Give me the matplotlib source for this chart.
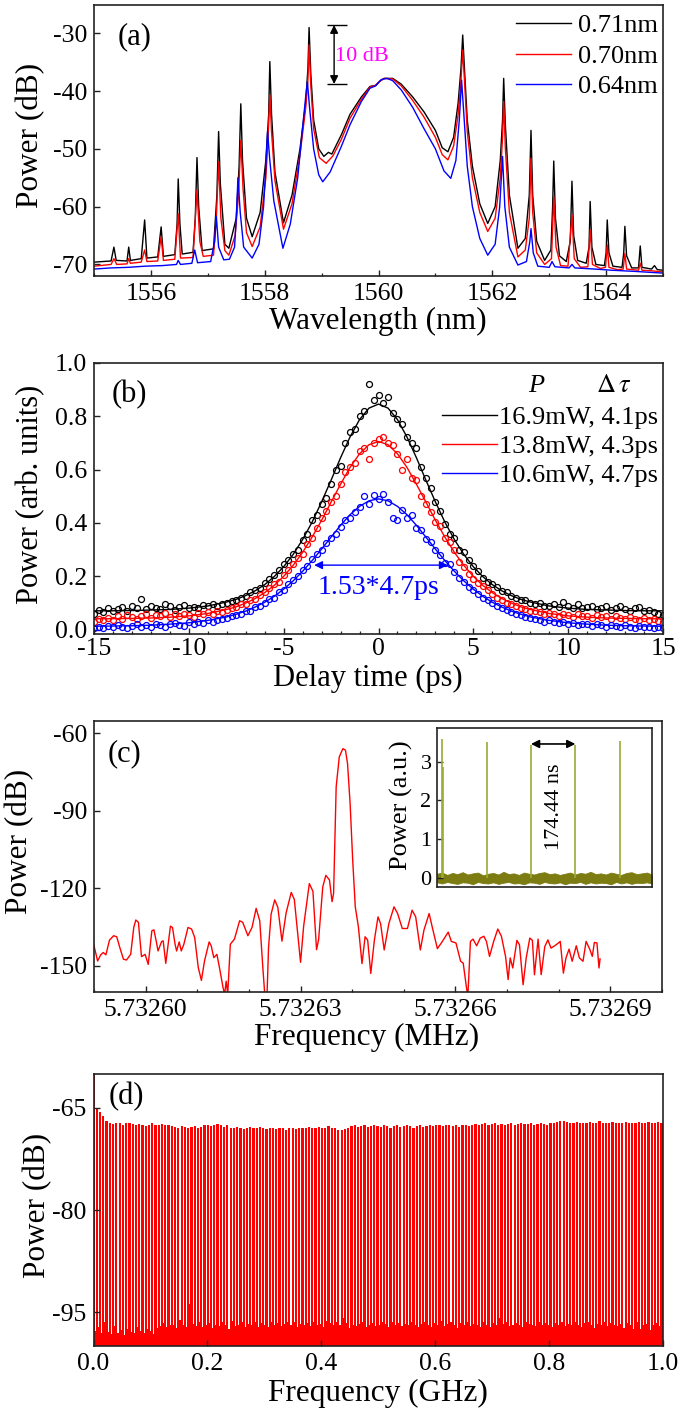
import numpy as np
import matplotlib
matplotlib.use('Agg')
import matplotlib.pyplot as plt

plt.rcParams['font.family'] = ['Liberation Serif', 'DejaVu Serif']
plt.rcParams['mathtext.fontset'] = 'stix'
plt.rcParams['axes.unicode_minus'] = False

# ---------------- data: panel (a) optical spectra (wavelength nm, power dB) ----------------
a_black = [(1555.00, -69.6), (1555.30, -69.4), (1555.35, -67.0), (1555.39, -69.3), (1555.58, -69.4), (1555.61, -67.0),
           (1555.64, -69.3), (1555.83, -69.0), (1555.89, -62.3), (1555.93, -68.9), (1556.12, -68.7), (1556.18, -63.5),
           (1556.22, -68.6), (1556.42, -68.3), (1556.46, -63.0), (1556.48, -55.2), (1556.51, -63.0), (1556.55, -68.2),
           (1556.74, -67.9), (1556.78, -62.0), (1556.81, -51.5), (1556.84, -60.0), (1556.90, -67.6), (1557.10, -67.3),
           (1557.16, -58.0), (1557.19, -47.0), (1557.22, -56.0), (1557.30, -66.5), (1557.37, -67.2), (1557.50, -62.0),
           (1557.55, -53.0), (1557.58, -42.2), (1557.61, -52.0), (1557.68, -62.0), (1557.78, -65.2), (1557.92, -61.0),
           (1558.02, -52.0), (1558.07, -44.0), (1558.09, -34.9), (1558.12, -44.0), (1558.18, -54.0), (1558.33, -62.8),
           (1558.48, -58.0), (1558.62, -50.0), (1558.72, -42.0), (1558.76, -36.0), (1558.78, -29.0), (1558.81, -37.0),
           (1558.86, -45.0), (1558.95, -50.0), (1559.04, -51.3), (1559.12, -50.6), (1559.18, -50.9), (1559.35, -47.5),
           (1559.50, -44.0), (1559.70, -41.0), (1559.85, -39.2), (1559.95, -39.0), (1560.02, -38.3), (1560.10, -37.8),
           (1560.25, -37.8), (1560.40, -38.8), (1560.60, -41.0), (1560.80, -43.6), (1561.00, -46.8), (1561.12, -49.8),
           (1561.22, -50.5), (1561.32, -48.0), (1561.40, -42.0), (1561.45, -36.0), (1561.48, -30.3), (1561.51, -36.0),
           (1561.56, -45.0), (1561.65, -53.0), (1561.78, -59.5), (1561.92, -62.9), (1562.05, -60.0), (1562.14, -52.0),
           (1562.18, -45.0), (1562.20, -37.8), (1562.23, -46.0), (1562.30, -58.0), (1562.45, -67.2), (1562.58, -65.5),
           (1562.65, -58.0), (1562.68, -46.8), (1562.71, -58.0), (1562.78, -66.0), (1562.92, -69.3), (1563.03, -67.5),
           (1563.06, -60.0), (1563.08, -52.1), (1563.11, -62.0), (1563.18, -68.5), (1563.30, -69.5), (1563.37, -66.0),
           (1563.40, -55.6), (1563.43, -65.0), (1563.50, -69.3), (1563.65, -69.8), (1563.70, -67.0), (1563.72, -59.1),
           (1563.75, -67.0), (1563.82, -70.0), (1563.97, -70.2), (1564.00, -68.0), (1564.02, -62.3), (1564.05, -68.0),
           (1564.12, -70.3), (1564.28, -70.5), (1564.31, -68.0), (1564.33, -63.4), (1564.36, -68.5), (1564.45, -70.6),
           (1564.57, -70.6), (1564.60, -66.8), (1564.63, -70.5), (1564.80, -70.8), (1564.85, -70.2), (1564.90, -70.9),
           (1565.00, -71.0)]

a_red = [(1555.00, -70.3), (1555.30, -70.0), (1555.35, -69.0), (1555.40, -70.0), (1555.58, -69.9), (1555.61, -69.0),
         (1555.64, -69.8), (1555.83, -69.6), (1555.89, -67.5), (1555.93, -69.5), (1556.12, -69.4), (1556.18, -65.2),
         (1556.22, -69.3), (1556.42, -69.1), (1556.48, -61.2), (1556.52, -68.9), (1556.74, -68.8), (1556.81, -57.1),
         (1556.86, -66.0), (1556.92, -68.6), (1557.10, -68.4), (1557.15, -62.0), (1557.19, -52.2), (1557.23, -62.0),
         (1557.30, -67.6), (1557.37, -68.4), (1557.48, -65.0), (1557.54, -58.0), (1557.58, -48.5), (1557.62, -57.0),
         (1557.68, -64.5), (1557.78, -66.9), (1557.92, -63.5), (1558.02, -55.0), (1558.06, -48.0), (1558.09, -40.7),
         (1558.12, -47.0), (1558.18, -55.5), (1558.33, -63.9), (1558.48, -59.5), (1558.62, -51.0), (1558.72, -43.0),
         (1558.76, -38.0), (1558.78, -32.0), (1558.81, -39.0), (1558.86, -46.5), (1558.96, -51.5), (1559.08, -52.5),
         (1559.20, -51.2), (1559.35, -48.3), (1559.50, -44.7), (1559.70, -41.4), (1559.85, -39.3), (1559.95, -39.0),
         (1560.02, -38.3), (1560.10, -37.8), (1560.25, -37.9), (1560.40, -39.1), (1560.60, -41.6), (1560.80, -44.5),
         (1561.00, -48.0), (1561.12, -51.0), (1561.22, -51.9), (1561.32, -49.5), (1561.40, -44.0), (1561.45, -38.0),
         (1561.48, -32.9), (1561.51, -38.0), (1561.56, -47.0), (1561.65, -55.0), (1561.78, -61.0), (1561.92, -64.3),
         (1562.05, -62.0), (1562.14, -55.0), (1562.18, -48.0), (1562.20, -41.8), (1562.23, -50.0), (1562.30, -61.0),
         (1562.45, -68.7), (1562.58, -67.5), (1562.65, -62.0), (1562.68, -51.6), (1562.71, -61.0), (1562.78, -68.0),
         (1562.92, -70.0), (1563.04, -69.0), (1563.08, -58.3), (1563.12, -67.0), (1563.20, -70.2), (1563.33, -70.3),
         (1563.40, -61.4), (1563.44, -69.0), (1563.55, -70.5), (1563.68, -70.4), (1563.72, -64.0), (1563.76, -70.0),
         (1563.90, -70.7), (1563.99, -70.5), (1564.02, -66.6), (1564.05, -70.5), (1564.20, -70.9), (1564.30, -70.8),
         (1564.33, -68.1), (1564.36, -70.8), (1564.57, -71.0), (1564.60, -69.8), (1564.63, -71.0), (1564.80, -71.1),
         (1565.00, -71.3)]

a_blue = [(1555.00, -70.8), (1555.30, -70.6), (1555.60, -70.5), (1555.90, -70.3), (1556.20, -70.2), (1556.45, -70.0),
          (1556.48, -69.3), (1556.52, -70.0), (1556.72, -69.8), (1556.77, -67.5), (1556.82, -69.7), (1557.05, -69.5),
          (1557.12, -66.0), (1557.15, -61.7), (1557.19, -67.0), (1557.28, -69.2), (1557.38, -69.1), (1557.47, -67.0),
          (1557.50, -62.0), (1557.53, -55.0), (1557.57, -61.0), (1557.63, -67.0), (1557.78, -68.9), (1557.90, -66.5),
          (1557.98, -60.0), (1558.02, -53.0), (1558.05, -47.0), (1558.09, -52.0), (1558.16, -59.0), (1558.32, -67.2),
          (1558.45, -63.0), (1558.58, -55.0), (1558.66, -47.0), (1558.72, -41.0), (1558.75, -38.4), (1558.79, -43.0),
          (1558.86, -50.0), (1558.95, -54.5), (1559.02, -55.7), (1559.15, -54.0), (1559.35, -49.5), (1559.50, -45.8),
          (1559.70, -41.8), (1559.85, -39.5), (1559.95, -39.1), (1560.05, -38.0), (1560.15, -37.8), (1560.25, -38.2),
          (1560.40, -39.8), (1560.60, -42.8), (1560.80, -46.5), (1561.00, -50.0), (1561.15, -53.8), (1561.27, -55.1),
          (1561.36, -52.0), (1561.42, -45.0), (1561.46, -38.1), (1561.50, -44.0), (1561.56, -53.0), (1561.65, -60.0),
          (1561.78, -65.5), (1561.92, -68.4), (1562.05, -66.5), (1562.13, -60.0), (1562.18, -51.3), (1562.22, -60.0),
          (1562.30, -67.0), (1562.45, -70.1), (1562.60, -69.5), (1562.66, -66.0), (1562.68, -63.8), (1562.72, -68.0),
          (1562.80, -70.3), (1563.00, -70.5), (1563.05, -69.5), (1563.10, -70.4), (1563.35, -70.6), (1563.40, -70.0),
          (1563.45, -70.6), (1563.80, -70.8), (1564.10, -71.0), (1564.50, -71.2), (1565.00, -71.5)]

a_labels = ['0.71nm', '0.70nm', '0.64nm']

# ---------------- data: panel (b) autocorrelation traces ----------------
b_t = np.linspace(-15, 15, 121)  # delay samples (ps)
b_black = [.060, .075, .068, .080, .072, .078, .085, .070, .088, .080,
           .115, .076, .090, .083, .079, .095, .088, .075, .085, .092,
           .080, .087, .082, .094, .088, .096, .090, .098, .102, .108,
           .112, .118, .125, .140, .150, .158, .175, .190, .205, .222,
           .245, .262, .285, .300, .335, .360, .410, .430, .470, .495,
           .545, .600, .615, .700, .740, .750, .800, .820, .920, .860,
           .880,
           .850, .870, .810, .790, .770, .720, .700, .680, .610, .570,
           .530, .480, .445, .395, .360, .345, .300, .290, .260, .240,
           .220, .195, .180, .170, .160, .145, .140, .125, .118, .110,
           .112, .100, .095, .102, .090, .088, .095, .085, .105, .090,
           .082, .095, .080, .085, .090, .078, .082, .088, .075, .082,
           .090, .078, .072, .080, .085, .070, .075, .065, .060, .055]
b_red = [.030, .040, .035, .045, .038, .050, .042, .055, .048, .040,
         .052, .058, .045, .055, .050, .062, .048, .058, .052, .060,
         .055, .048, .062, .058, .065, .060, .070, .066, .075, .080,
         .085, .095, .098, .110, .115, .130, .140, .155, .170, .180,
         .205, .225, .245, .270, .285, .320, .345, .380, .420, .445,
         .480, .500, .545, .590, .610, .625, .670, .680, .640, .700,
         .715,
         .720, .700, .690, .660, .600, .640, .570, .560, .500, .470,
         .440, .405, .390, .345, .330, .300, .255, .235, .210, .190,
         .175, .165, .150, .135, .120, .110, .102, .095, .090, .080,
         .078, .072, .070, .065, .060, .062, .058, .052, .060, .055,
         .048, .058, .050, .052, .045, .055, .048, .050, .042, .052,
         .045, .040, .048, .042, .038, .045, .035, .040, .032, .030]
b_blue = [.005, .012, .008, .015, .010, .018, .012, .008, .015, .020,
          .012, .018, .010, .022, .016, .012, .020, .025, .018, .015,
          .028, .022, .030, .025, .035, .030, .038, .042, .045, .050,
          .055, .060, .070, .072, .085, .090, .100, .115, .120, .140,
          .150, .170, .185, .200, .225, .240, .265, .285, .300, .325,
          .345, .360, .385, .410, .420, .440, .460, .500, .470, .505,
          .490,
          .510, .480, .420, .410, .450, .420, .430, .380, .375, .340,
          .330, .300, .280, .250, .245, .215, .195, .180, .160, .150,
          .135, .120, .110, .100, .090, .082, .075, .065, .060, .055,
          .048, .045, .040, .038, .030, .035, .028, .025, .030, .022,
          .025, .018, .022, .020, .015, .020, .018, .012, .018, .015,
          .010, .016, .012, .008, .014, .010, .012, .006, .010, .005]
b_fit_t = [-15, -14, -13, -12, -11, -10, -9, -8, -7.5, -7, -6.5, -6, -5.5, -5, -4.5, -4, -3.5, -3, -2.5, -2, -1.5,
           -1, -0.5, 0, 0.5, 1, 1.5, 2, 2.5, 3, 3.5, 4, 4.5, 5, 5.5, 6, 6.5, 7, 7.5, 8, 9, 10, 11, 12, 13, 14, 15]
b_fit_black = [.071, .071, .072, .074, .076, .081, .089, .104, .114, .128, .146, .169, .199, .236, .282, .338, .403,
               .479, .560, .644, .722, .787, .830, .845, .830, .787, .722, .644, .560, .479, .403, .338, .282, .236,
               .199, .169, .146, .128, .114, .104, .089, .081, .076, .074, .072, .071, .071]
b_fit_red = [.041, .0415, .0425, .044, .047, .052, .061, .076, .086, .100, .117, .139, .166, .200, .241, .290, .347,
             .410, .478, .545, .608, .659, .693, .705, .693, .659, .608, .545, .478, .410, .347, .290, .241, .200,
             .166, .139, .117, .100, .086, .076, .061, .052, .047, .044, .0425, .0415, .041]
b_fit_blue = [.013, .014, .015, .017, .021, .026, .035, .048, .058, .070, .085, .103, .125, .152, .183, .219, .259,
              .302, .347, .391, .431, .462, .483, .490, .483, .462, .431, .391, .347, .302, .259, .219, .183, .152,
              .125, .103, .085, .070, .058, .048, .035, .026, .021, .017, .015, .014, .013]
b_labels = ['16.9mW, 4.1ps', '13.8mW, 4.3ps', '10.6mW, 4.7ps']

# ---------------- data: panel (c) RF spectrum (offset in units of 1e-5 MHz from 5.73260 MHz) ----------------
c_base_mhz = 5.73260
c_pts = [(-1.01, -141.4), (-0.93, -148.2), (-0.87, -145.8), (-0.82, -144.9), (-0.77, -145.8), (-0.70, -140.1),
         (-0.62, -138.4), (-0.56, -138.8), (-0.50, -143.0), (-0.43, -147.5), (-0.37, -147.8), (-0.29, -145.6),
         (-0.23, -135.2), (-0.19, -132.3), (-0.14, -133.2), (-0.08, -146.5), (-0.01, -145.6), (0.05, -149.5),
         (0.12, -136.5), (0.16, -136.1), (0.21, -141.0), (0.24, -144.3), (0.31, -140.6), (0.34, -140.4),
         (0.39, -149.1), (0.48, -134.7), (0.52, -135.2), (0.57, -141.7), (0.60, -144.3), (0.65, -140.8),
         (0.69, -144.3), (0.74, -141.7), (0.82, -135.2), (0.89, -135.8), (0.95, -139.1), (1.02, -150.8),
         (1.08, -155.7), (1.14, -148.2), (1.23, -140.8), (1.27, -142.3), (1.32, -146.9), (1.38, -145.6),
         (1.43, -150.8), (1.50, -158.6), (1.53, -161.0), (1.56, -156.0), (1.59, -161.0), (1.64, -141.7),
         (1.72, -139.7), (1.82, -132.6), (1.88, -133.2), (1.98, -138.4), (2.06, -135.2), (2.14, -127.8),
         (2.21, -132.6), (2.27, -150.8), (2.31, -162.0), (2.35, -162.0), (2.38, -143.0), (2.43, -130.0),
         (2.50, -124.5), (2.56, -127.4), (2.64, -140.5), (2.72, -129.6), (2.82, -121.6), (2.88, -124.4),
         (2.95, -138.6), (3.00, -148.7), (3.06, -134.7), (3.17, -118.2), (3.24, -121.2), (3.31, -143.8),
         (3.35, -139.9), (3.43, -119.5), (3.49, -115.0), (3.56, -116.8), (3.61, -125.2), (3.64, -122.0),
         (3.69, -80.7), (3.75, -69.1), (3.82, -65.9), (3.87, -66.5), (3.91, -71.7), (3.96, -87.2),
         (4.01, -109.1), (4.06, -127.2), (4.12, -134.9), (4.19, -149.2), (4.25, -138.8), (4.30, -140.1),
         (4.36, -153.0), (4.43, -140.1), (4.50, -131.1), (4.55, -133.7), (4.62, -143.9), (4.71, -133.7),
         (4.81, -127.2), (4.88, -129.8), (4.97, -135.6), (5.07, -135.6), (5.16, -128.5), (5.23, -131.1),
         (5.32, -143.9), (5.39, -136.2), (5.49, -129.8), (5.55, -135.0), (5.65, -143.4), (5.74, -140.8),
         (5.86, -137.0), (5.92, -140.6), (6.01, -141.2), (6.10, -148.3), (6.15, -149.0), (6.21, -158.0),
         (6.24, -162.0), (6.29, -140.6), (6.34, -139.7), (6.41, -142.3), (6.48, -139.3), (6.55, -138.6),
         (6.60, -140.6), (6.66, -146.4), (6.74, -140.6), (6.82, -135.8), (6.89, -138.6), (6.97, -146.4),
         (7.02, -155.4), (7.06, -147.0), (7.11, -150.9), (7.19, -140.2), (7.24, -141.9), (7.31, -157.4),
         (7.37, -147.0), (7.44, -139.3), (7.49, -140.2), (7.53, -153.5), (7.60, -139.7), (7.66, -153.5),
         (7.73, -142.6), (7.79, -140.0), (7.85, -143.2), (7.95, -141.9), (8.03, -140.6), (8.09, -152.9),
         (8.14, -147.0), (8.20, -143.6), (8.26, -148.3), (8.34, -142.3), (8.40, -147.0), (8.47, -148.3),
         (8.53, -140.6), (8.60, -143.6), (8.65, -146.4), (8.69, -141.0), (8.74, -141.2), (8.78, -150.9),
         (8.80, -147.4)]
c_xticks = [5.73260, 5.73263, 5.73266, 5.73269]
c_xticklabels = ['5.73260', '5.73263', '5.73266', '5.73269']

# inset: pulse train (ns, a.u.)
ins_pulse_t = [20.5, 194.9, 369.3, 543.8, 718.2]
ins_pulse_h = [3.59, 3.49, 3.43, 3.43, 3.52]
ins_extra_t = [23.5]
ins_extra_h = [2.85]
ins_noise_t = np.linspace(0, 845, 43)
ins_noise_up = [0.12, 0.15, 0.09, 0.14, 0.11, 0.16, 0.10, 0.13, 0.15, 0.08,
                0.12, 0.14, 0.10, 0.17, 0.11, 0.13, 0.09, 0.15, 0.12, 0.10,
                0.14, 0.16, 0.11, 0.13, 0.09, 0.12, 0.15, 0.10, 0.14, 0.12,
                0.17, 0.11, 0.13, 0.10, 0.15, 0.12, 0.09, 0.14, 0.16, 0.11,
                0.13, 0.15, 0.10]
ins_noise_lo = [-0.10, -0.13, -0.09, -0.12, -0.14, -0.10, -0.11, -0.15, -0.09, -0.12,
                -0.13, -0.10, -0.14, -0.11, -0.09, -0.13, -0.12, -0.15, -0.10, -0.11,
                -0.14, -0.09, -0.12, -0.13, -0.10, -0.15, -0.11, -0.12, -0.09, -0.14,
                -0.10, -0.13, -0.11, -0.12, -0.15, -0.09, -0.13, -0.10, -0.14, -0.11,
                -0.12, -0.10, -0.13]

# ---------------- data: panel (d) wide-span RF comb ----------------
d_rep_ghz = 0.00573263
d_peak_db = [-60.0, -65.1, -65.6, -66.2, -67.0, -67.3,
             -67.4, -67.2, -67.3, -67.5, -67.2, -67.3, -67.4,
             -67.6, -67.4, -67.5, -67.7, -67.5, -67.3, -67.6, -67.5, -67.4, -67.6, -67.5, -67.7,
             -67.8, -67.9, -67.7, -67.8, -68.0, -67.8, -67.7, -67.9, -67.8, -67.6,
             -67.5, -67.7, -67.6, -67.4, -67.6, -67.8, -67.6,
             -67.9, -68.0, -67.8, -67.9, -68.1, -67.9, -67.8, -68.0, -67.9, -67.8, -68.0, -68.1, -67.9,
             -68.0, -68.1, -67.9, -68.0, -68.2, -68.0, -67.9, -68.1, -68.0, -67.9,
             -67.9, -67.8, -68.0, -67.9, -67.8, -68.0, -67.9, -67.7, -67.9, -68.0, -68.2, -68.3, -68.1, -67.9,
             -67.7, -67.6, -67.8, -67.7, -67.6, -67.8, -67.7, -67.5, -67.7, -67.8, -67.6, -67.7, -67.9,
             -67.7, -67.6, -67.8, -67.7, -67.6, -67.7, -67.9, -67.7, -67.6, -67.8, -67.7, -67.6, -67.7,
             -67.6, -67.5, -67.7, -67.6, -67.5, -67.7, -67.6, -67.8, -67.6, -67.5, -67.7, -67.6, -67.4, -67.6,
             -67.4, -67.3, -67.5, -67.4, -67.3, -67.5, -67.4, -67.6, -67.4, -67.3, -67.5, -67.4, -67.3, -67.4,
             -67.4, -67.3, -67.5, -67.4, -67.2, -67.4, -67.5, -67.3, -67.2, -67.1,
             -66.9, -67.0, -67.1,
             -67.2, -67.3, -67.1, -67.2, -67.3, -67.2, -67.1, -67.3, -67.2, -67.0, -67.2, -67.3, -67.2, -67.1,
             -67.2, -67.3, -67.2, -67.1, -67.2, -67.2, -67.3, -67.1, -67.2, -67.2, -67.1, -67.3, -67.2, -67.1,
             -67.2]
d_dip_db = [-97.8, -97.2, -98.0, -96.5, -97.9, -98.2, -97.0, -98.1, -97.6, -98.3,
            -97.4, -97.9, -98.0, -97.2, -97.7, -98.1, -97.5, -97.8, -98.2, -97.3,
            -97.0, -96.6, -97.2, -96.8, -96.9, -97.3, -96.2, -96.8, -97.1, -93.8,
            -96.7, -97.0, -96.5, -97.2, -96.9, -96.6, -97.3, -96.8, -97.0, -96.4,
            -96.9, -97.4, -96.3, -97.0, -96.8, -96.5, -97.2, -96.7, -96.9, -96.4,
            -97.1, -96.6, -96.9, -97.2, -96.5, -96.8, -96.6, -97.0, -96.7, -96.4,
            -96.8, -96.5, -97.1, -96.7, -96.9, -96.6, -97.0, -96.4, -96.8, -96.7,
            -97.2, -96.3, -96.6, -96.9, -96.5, -96.8, -95.8, -96.6, -97.3, -96.9,
            -97.0, -96.7, -96.5, -97.1, -96.8, -96.6, -97.0, -96.9, -96.4, -96.7,
            -97.2, -96.5, -96.8, -96.6, -97.0, -96.7, -96.9, -96.4, -96.8, -97.1,
            -96.7, -96.5, -96.9, -97.2, -96.6, -96.8, -96.3, -97.0, -96.7, -96.5,
            -96.9, -97.3, -96.6, -96.8, -96.4, -97.0, -96.7, -96.9, -97.2, -96.5,
            -96.8, -97.1, -96.6, -96.9, -95.9, -96.7, -96.5, -97.0, -96.8, -96.6,
            -96.9, -97.2, -96.5, -96.7, -96.8, -97.0, -96.4, -96.9, -96.6, -96.8,
            -97.1, -96.6, -96.8, -96.5, -97.0, -96.7, -96.9, -96.4, -96.8, -97.2,
            -96.6, -96.5, -96.9, -97.3, -96.7, -96.8, -96.5, -97.0, -96.6, -96.9,
            -97.0, -96.7, -97.3, -96.6, -96.8, -97.4, -96.5, -97.5, -96.9, -96.7,
            -97.6, -96.8, -96.6, -97.0, -96.8]

# ---------------- figure ----------------
W, H = 686, 1417
fig = plt.figure(figsize=(W / 100, H / 100), dpi=100)
SPINE = '#222222'
TICK_FS = 18.5
LABEL_FS = 22.5


def add_ax(box):
    x0, y0, x1, y1 = box
    return fig.add_axes([x0 / W, 1 - y1 / H, (x1 - x0) / W, (y1 - y0) / H])


def style(ax, size=TICK_FS, pad=5):
    for s in ax.spines.values():
        s.set_color(SPINE)
        s.set_linewidth(1.2)
    ax.tick_params(which='both', direction='in', top=False, right=False, labelsize=size, pad=pad, color=SPINE)
    ax.tick_params(which='major', length=4.5, width=1.0)
    ax.tick_params(which='minor', length=2.5, width=0.9)


def labels(ax, box, xl, xc, yl, yc, size=LABEL_FS):
    x0, y0, x1, y1 = box
    ax.set_xlabel(xl, fontsize=size)
    ax.xaxis.set_label_coords((xc[0] - x0) / (x1 - x0), (y1 - xc[1]) / (y1 - y0))
    ax.xaxis.label.set_va('center')
    ax.set_ylabel(yl, fontsize=size)
    ax.yaxis.set_label_coords((yc[0] - x0) / (x1 - x0), (y1 - yc[1]) / (y1 - y0))
    ax.yaxis.label.set_va('center')


# ----- (a) -----
box_a = (94, 5, 663, 276)
ax = add_ax(box_a)
for pts, col, lab in zip([a_black, a_red, a_blue], ['black', 'red', 'blue'], a_labels):
    wl, db = zip(*pts)
    ax.plot(wl, db, color=col, lw=1.0, label=lab)
ax.set_xlim(1555, 1565)
ax.set_ylim(-72.0, -25.1)
ax.set_xticks([1556, 1558, 1560, 1562, 1564])
ax.set_xticks(np.arange(1555, 1566, 1), minor=True)
ax.set_yticks([-70, -60, -50, -40, -30])
style(ax)
labels(ax, box_a, 'Wavelength (nm)', (378, 321.5), 'Power (dB)', (30.7, 135))
ax.text(0.072, 0.883, '(a)', transform=ax.transAxes, fontsize=22, ha='center', va='center')
ax.legend(loc='upper right', bbox_to_anchor=(0.991, 0.967), frameon=False, fontsize=19, handlelength=2.1,
          handletextpad=0.25, labelspacing=0.26, borderaxespad=0, borderpad=0)
ax.hlines([-28.56, -38.77], 1559.09, 1559.44, color='black', lw=1.0)
ax.annotate('', xy=(1559.22, -28.56), xytext=(1559.22, -38.77),
            arrowprops=dict(arrowstyle='<|-|>', color='black', lw=1.0, mutation_scale=12, shrinkA=0, shrinkB=0))
ax.text(1559.24, -34.05, '10 dB', color='#ff00ff', fontsize=16, ha='left', va='center')

# ----- (b) -----
box_b = (94, 362.7, 663, 634.3)
ax = add_ax(box_b)
for d, fit, col, lab in zip([b_black, b_red, b_blue], [b_fit_black, b_fit_red, b_fit_blue],
                            ['black', 'red', 'blue'], b_labels):
    ax.plot(b_t, d, ls='none', marker='o', ms=4.3, mfc='none', mec=col, mew=0.9)
    ax.plot(b_fit_t, fit, color=col, lw=1.0, label=lab)
ax.set_xlim(-15, 15)
ax.set_ylim(-0.017, 1.0)
ax.set_xticks([-15, -10, -5, 0, 5, 10, 15])
ax.set_xticks(np.arange(-15, 16, 1), minor=True)
ax.set_yticks([0.0, 0.2, 0.4, 0.6, 0.8, 1.0])
ax.set_yticklabels(['0.0', '0.2', '0.4', '0.6', '0.8', '1.0'])
style(ax)
ax.tick_params(axis='x', pad=3)
labels(ax, box_b, 'Delay time (ps)', (368, 678), 'Power (arb. units)', (30.7, 494), size=22)
ax.text(0.0615, 0.881, '(b)', transform=ax.transAxes, fontsize=22, ha='center', va='center')
ax.legend(loc='upper right', bbox_to_anchor=(0.991, 0.843), frameon=False, fontsize=19, handlelength=2.1,
          handletextpad=0.05, labelspacing=0.22, borderaxespad=0, borderpad=0)
ax.text(8.3, 0.912, 'P', fontsize=19, fontstyle='italic', ha='center', va='center')
ax.text(12.4, 0.912, r'$\Delta\,\tau$', fontsize=19, ha='center', va='center')
ax.annotate('', xy=(-3.39, 0.242), xytext=(3.65, 0.242),
            arrowprops=dict(arrowstyle='<|-|>', color='blue', lw=1.0, mutation_scale=12, shrinkA=0, shrinkB=0))
ax.text(0.0, 0.16, '1.53*4.7ps', color='blue', fontsize=20, ha='center', va='center')

# ----- (c) -----
box_c = (94, 721, 662, 992)
ax = add_ax(box_c)
c_off, c_db = zip(*c_pts)
c_freq = c_base_mhz + np.array(c_off) * 1e-5
ax.plot(c_freq, c_db, color='red', lw=1.0)
ax.set_xlim(5.73259, 5.73270)
ax.set_ylim(-160.2, -55.2)
ax.set_xticks(c_xticks, labels=c_xticklabels)
ax.set_xticks([5.73259 + 1e-5 * k for k in range(12)], minor=True)
ax.set_yticks([-150, -120, -90, -60])
style(ax)
labels(ax, box_c, 'Frequency (MHz)', (367, 1037.5), 'Power (dB)', (19.3, 841.7))
ax.text(0.053, 0.881, '(c)', transform=ax.transAxes, fontsize=22, ha='center', va='center')

box_i = (437, 728, 652, 887)
ai = add_ax(box_i)
ai.fill_between(ins_noise_t, ins_noise_lo, ins_noise_up, color='#7c7c12', lw=0.6, edgecolor='#7c7c12')
ai.vlines(ins_pulse_t, 0, ins_pulse_h, color='#9aac34', lw=1.2)
ai.vlines(ins_extra_t, 0, ins_extra_h, color='#9aac34', lw=1.2)
ai.set_xlim(0, 845)
ai.set_ylim(-0.22, 3.86)
ai.set_xticks([])
ai.set_yticks([0, 1, 2, 3])
style(ai, size=16, pad=4)
ai.set_ylabel('Power (a.u.)', fontsize=19)
ai.yaxis.set_label_coords((401.7 - 437) / 215, (887 - 805) / 159)
ai.yaxis.label.set_va('center')
ai.annotate('', xy=(ins_pulse_t[2], 3.45), xytext=(ins_pulse_t[3], 3.45),
            arrowprops=dict(arrowstyle='<|-|>', color='black', lw=1.2, mutation_scale=12, shrinkA=0, shrinkB=0))
ai.text(460, 1.84, '174.44 ns', rotation=90, fontsize=16, ha='center', va='center')

# ----- (d) -----
box_d = (93.5, 1074, 663, 1346)
ax = add_ax(box_d)
D_FLOOR = -101.0
d_f = np.arange(len(d_peak_db)) * d_rep_ghz
ax.bar(d_f, np.array(d_peak_db) - D_FLOOR, bottom=D_FLOOR, width=d_rep_ghz * 0.68, color='red', lw=0)
ax.bar(d_f + d_rep_ghz / 2, np.array(d_dip_db) - D_FLOOR, bottom=D_FLOOR, width=d_rep_ghz * 0.4, color='red', lw=0)
ax.set_xlim(0, 1.0)
ax.set_ylim(-99.95, -60.05)
ax.set_xticks([0.0, 0.2, 0.4, 0.6, 0.8, 1.0])
ax.set_xticklabels(['0.0', '0.2', '0.4', '0.6', '0.8', '1.0'])
ax.set_yticks([-95, -80, -65])
style(ax)
labels(ax, box_d, 'Frequency (GHz)', (378, 1393.7), 'Power (dB)', (37.3, 1205))
ax.text(0.0575, 0.917, '(d)', transform=ax.transAxes, fontsize=22, ha='center', va='center')

fig.savefig('out.png', dpi=100)
